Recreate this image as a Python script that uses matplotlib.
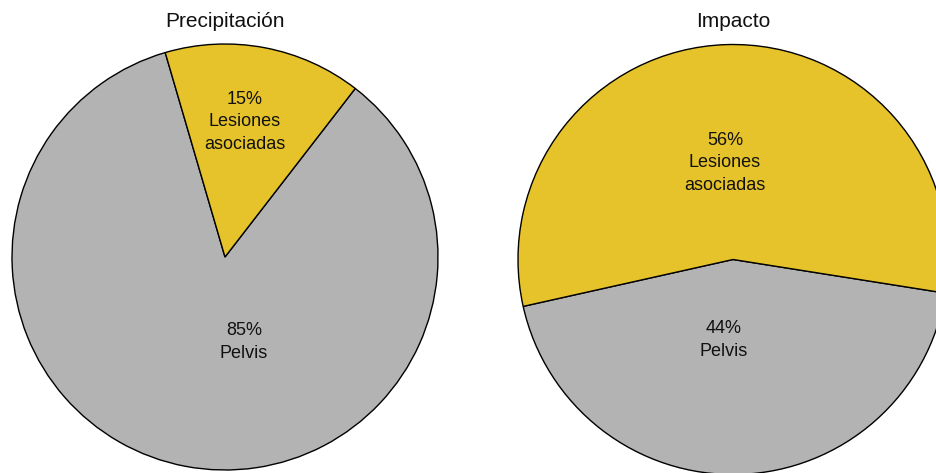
import matplotlib.pyplot as plt

plt.rcParams['font.family'] = ['Liberation Sans', 'DejaVu Sans']

# --- data ---
titles = ['Precipitación', 'Impacto']
categories = ['Pelvis', 'Lesiones\nasociadas']
precip_values = [85, 15]
impact_values = [44, 56]
colors = ['#b3b3b3', '#e6c32a']

# --- layout (pixels in a 937x473 figure) ---
W, H = 937, 473
pie_centers = [(225, 257), (733, 259.5)]
pie_radius = [213, 215]
start_angles = [106.3, 192.6]
# label anchor positions in pie units (radius = 1), per pie: [pelvis, lesiones]
label_pos = [[(0.089, -0.40), (0.094, 0.634)],
             [(-0.042, -0.374), (-0.037, 0.449)]]

fig = plt.figure(figsize=(W / 100, H / 100), dpi=100)

for i, vals in enumerate([precip_values, impact_values]):
    cx, cy = pie_centers[i]
    r = pie_radius[i]
    ax = fig.add_axes([(cx - r) / W, (H - cy - r) / H, 2 * r / W, 2 * r / H])
    ax.pie(vals, colors=colors, startangle=start_angles[i], counterclock=True,
           wedgeprops=dict(edgecolor='black', linewidth=1.0))
    ax.set_xlim(-1, 1)
    ax.set_ylim(-1, 1)
    ax.set_aspect('auto')
    ax.axis('off')
    for j, (v, cat) in enumerate(zip(vals, categories)):
        x, y = label_pos[i][j]
        ax.text(x, y, f'{v}%\n{cat}', ha='center', va='center', fontsize=13,
                linespacing=1.42, color='#111111')
    fig.text(cx / W, 1 - 27.3 / H, titles[i], ha='center', va='baseline',
             fontsize=15, color='#111111')

fig.savefig('out.png', dpi=100)
